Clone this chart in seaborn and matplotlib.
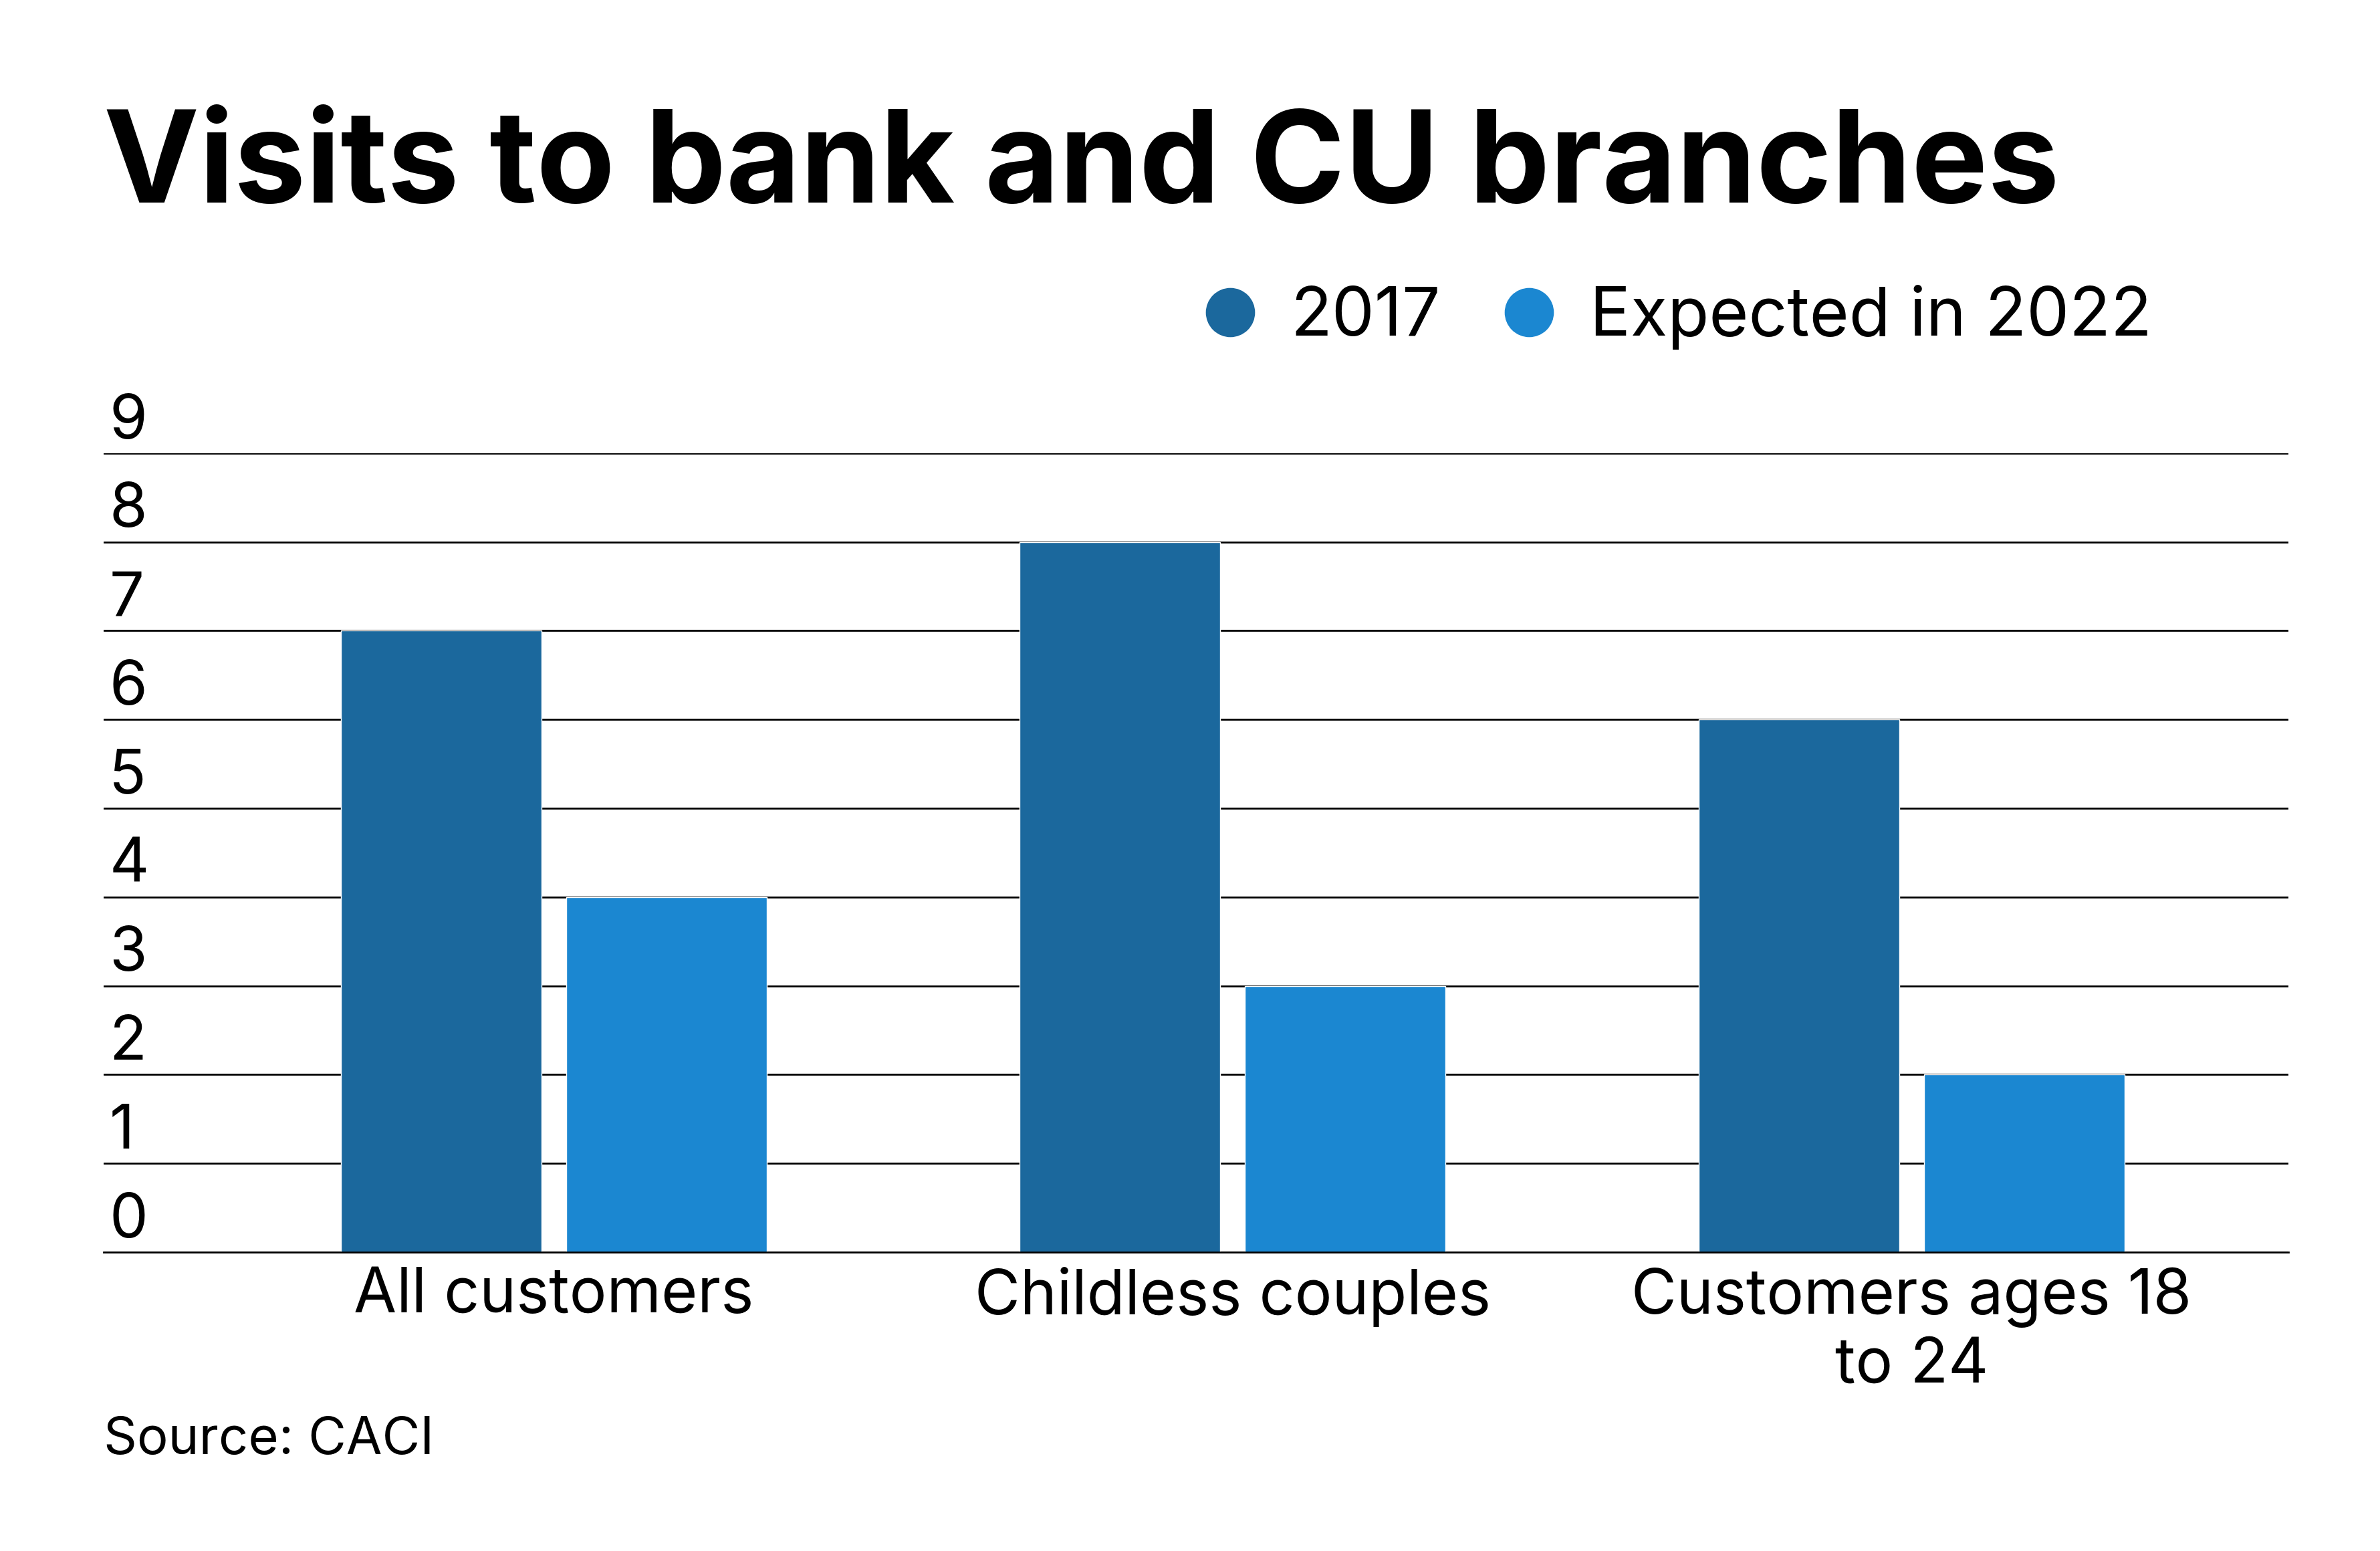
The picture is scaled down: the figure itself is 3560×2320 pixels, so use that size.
import matplotlib
matplotlib.use("Agg")
import matplotlib.pyplot as plt
from matplotlib.lines import Line2D
import pandas as pd
import seaborn as sns

# datos
categories = ["All customers", "Childless couples", "Customers ages 18\nto 24"]
series = ["2017", "Expected in 2022"]
visits_2017 = [7, 8, 6]
visits_2022 = [4, 3, 2]
y_ticks = list(range(10))

colors = ["#1b689d", "#1b87d1"]

df = pd.DataFrame({
    "category": categories * 2,
    "series": [series[0]] * 3 + [series[1]] * 3,
    "visits": visits_2017 + visits_2022,
})

sns.set_style("white")
plt.rcParams["font.family"] = ["Inter", "DejaVu Sans"]
plt.rcParams["text.color"] = "black"
plt.rcParams["xtick.color"] = "black"
plt.rcParams["ytick.color"] = "black"

fig = plt.figure(figsize=(35.6, 23.2), dpi=100)
ax = fig.add_axes([0.0435, 0.1927, 0.918, 0.5151])

sns.barplot(data=df, x="category", y="visits", hue="series", order=categories,
            hue_order=series, palette=colors, width=0.664, gap=0.11,
            saturation=1, legend=False, ax=ax, zorder=3)

ax.set_xlim(-0.663, 2.555)
ax.set_ylim(0, 9)
ax.set_yticks(y_ticks)
ax.set_yticklabels([])
ax.tick_params(axis="y", length=0)
ax.tick_params(axis="x", length=0, pad=16, labelsize=67, labelcolor="black")
ax.grid(axis="y", color="black", linewidth=2.0, zorder=1)
ax.set_xlabel("")
ax.set_ylabel("")
for s in ["top", "left", "right"]:
    ax.spines[s].set_visible(False)
ax.spines["bottom"].set_color("black")
ax.spines["bottom"].set_linewidth(2.0)
ax.spines["bottom"].set_zorder(4)
ax.set_axisbelow(True)

# etiquetas del eje y encima de cada linea
for v in y_ticks:
    ax.annotate(str(v), xy=(0, v), xycoords=("axes fraction", "data"),
                xytext=(6, 16), textcoords="offset points", color="black",
                ha="left", va="baseline", fontsize=66, annotation_clip=False)

# leyenda con circulos
handles = [Line2D([0], [0], marker="o", linestyle="", markersize=52,
                  markerfacecolor=c, markeredgecolor=c) for c in colors]
fig.legend(handles, series, loc="center right", bbox_to_anchor=(0.9185, 0.7953),
           ncol=2, frameon=False, fontsize=73, borderpad=0, handlelength=0.8,
           handletextpad=0.5, columnspacing=0.9, labelcolor="black")

fig.text(0.0435, 0.8694, "Visits to bank and CU branches", fontsize=138,
         fontweight="bold", color="black", ha="left", va="baseline")
fig.text(0.0435, 1 - 2154 / 2320, "Source: CACI", fontsize=56,
         color="black", ha="left", va="center")

fig.savefig("out.png", dpi=100)
